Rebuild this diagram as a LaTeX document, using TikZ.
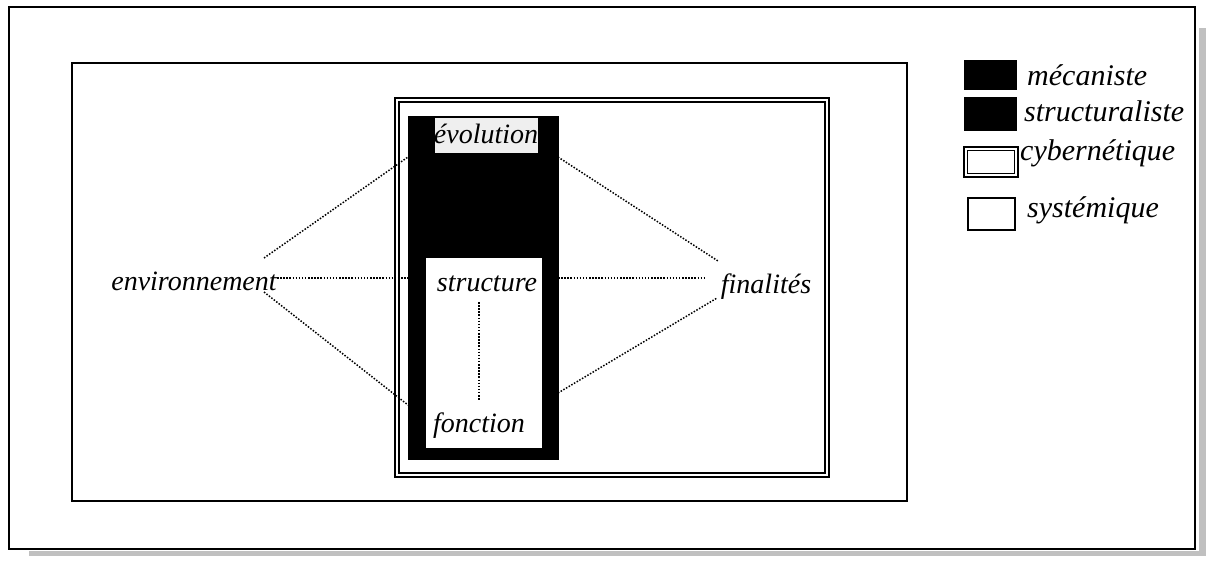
\documentclass[tikz,border=0pt]{standalone}
\usepackage{fontspec}
\setmainfont{Liberation Serif}
\definecolor{shadowgray}{HTML}{C0C0C0}
\definecolor{lblgray}{HTML}{EFEFEF}
\begin{document}
\begin{tikzpicture}[x=1pt,y=-1pt,
  lbl/.style={font=\fontsize{28}{32}\selectfont\itshape, inner sep=0pt},
  leglbl/.style={font=\fontsize{30}{34}\selectfont\itshape, inner sep=0pt},
  dotline/.style={line width=1.5pt, dash pattern=on 1.5pt off 1.6pt},
  frameline/.style={draw=black, line width=1.6pt},
  blackbox/.style={fill=black, draw=black, line width=1pt}]
\useasboundingbox (0,0) rectangle (1210,562);
\fill[white] (0,0) rectangle (1210,562);
% shadow
\fill[shadowgray] (1199,28) rectangle (1206,556);
\fill[shadowgray] (29,551) rectangle (1206,556);
% outer frame
\draw[line width=2pt] (9,7) rectangle (1195,549);
% systemique rect
\draw[frameline] (72,63) rectangle (907,501);
% cybernetique double rect
\draw[line width=1.4pt] (395,98) rectangle (829,477);
\draw[line width=1.4pt] (399,102) rectangle (825,473);
% mecaniste / structuraliste black box
\node[blackbox, minimum width=150pt, minimum height=343pt, inner sep=0pt] (mech) at (483,287.5) {};
% white inner rect
\node[fill=white, draw=white, minimum width=115pt, minimum height=189pt, inner sep=0pt] (inner) at (483.5,352.5) {};
% evolution label
\node[fill=lblgray, minimum width=103pt, minimum height=35pt, inner sep=0pt] (evobox) at (486.5,135.5) {};
\node[lbl, anchor=base] (evo) at (486,143) {évolution};
\node[lbl, anchor=base] (struct) at (487,291) {structure};
\node[lbl, anchor=base] (fonc) at (479,432) {fonction};
\node[lbl, anchor=base] (env) at (194,290) {environnement};
\node[lbl, anchor=base] (fin) at (766,293) {finalités};
% connector end points
\coordinate (envUR) at (264,258);
\coordinate (envR) at (277,278);
\coordinate (envLR) at (264,292);
\coordinate (mechUL) at (408,157);
\coordinate (mechML) at (408,278);
\coordinate (mechLL) at (408,405);
\coordinate (mechUR) at (558,157);
\coordinate (mechMR) at (558,278);
\coordinate (mechLR) at (558,393);
\coordinate (finUL) at (718,261);
\coordinate (finL) at (705,278);
\coordinate (finLL) at (717,298);
\coordinate (structB) at (479,302);
\coordinate (foncT) at (479,400);
\draw[dotline] (envUR) -- (mechUL);
\draw[dotline] (envR) -- (mechML);
\draw[dotline] (envLR) -- (mechLL);
\draw[dotline] (mechUR) -- (finUL);
\draw[dotline] (mechMR) -- (finL);
\draw[dotline] (mechLR) -- (finLL);
\draw[dotline] (structB) -- (foncT);
% legend
\node[blackbox, minimum width=52pt, minimum height=29pt, inner sep=0pt] (legMec) at (990,74.5) {};
\node[leglbl, anchor=base west] (legMecT) at (1027,85) {mécaniste};
\node[blackbox, minimum width=52pt, minimum height=33pt, inner sep=0pt] (legStr) at (990,113.5) {};
\node[leglbl, anchor=base west] (legStrT) at (1024,121) {structuraliste};
\draw[line width=1.2pt] (964,147) rectangle (1018,177);
\draw[line width=1.2pt] (967.5,150.5) rectangle (1014.5,173.5);
\node[leglbl, anchor=base west] (legCybT) at (1020,160) {cybernétique};
\draw[line width=1.6pt] (968,198) rectangle (1015,230);
\node[leglbl, anchor=base west] (legSysT) at (1027,217) {systémique};
\end{tikzpicture}
\end{document}
